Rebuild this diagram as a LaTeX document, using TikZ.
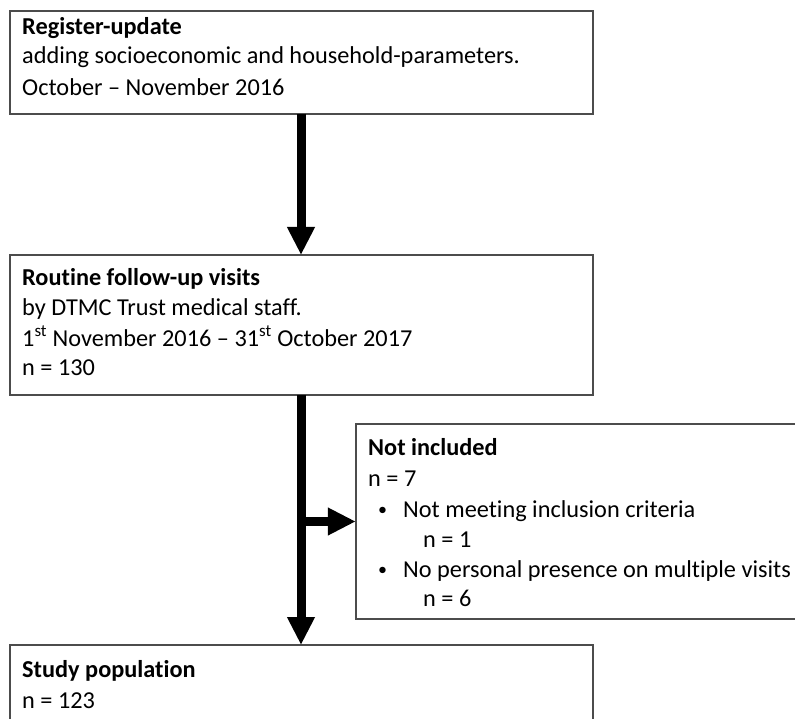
\documentclass[tikz,border=0pt]{standalone}
\usepackage{fontspec}
\setmainfont[Ligatures={NoCommon,TeX}]{Carlito}
\usetikzlibrary{arrows.meta}
\tikzset{
  box/.style={draw=black!70, line width=1.3pt, fill=white},
  txt/.style={anchor=base west, inner sep=0pt, font=\fontsize{24.3}{29}\selectfont},
  blt/.style={anchor=base west, inner sep=0pt, font=\fontsize{18}{29}\selectfont},
  ttl/.style={anchor=base west, inner sep=0pt, font=\fontsize{24.3}{29}\selectfont\bfseries},
  flow/.style={line width=9pt, -{Triangle[length=28pt,width=26pt]}},
}
\begin{document}
\begin{tikzpicture}[x=1pt,y=-1pt]
\useasboundingbox (0,0) rectangle (795,719);
\clip (0,0) rectangle (795,719);
\fill[white] (0,0) rectangle (795,719);
% boxes
\draw[box] (10,11) rectangle (593,114);
\node[inner sep=0pt, minimum width=583pt, minimum height=103pt] (b1) at (301.5,62.5) {};
\draw[box] (10,255) rectangle (593,395);
\node[inner sep=0pt, minimum width=583pt, minimum height=140pt] (b2) at (301.5,325) {};
\draw[box] (356,424) rectangle (820,619);
\node[inner sep=0pt, minimum width=464pt, minimum height=195pt] (b3) at (588,521.5) {};
\draw[box] (10,645) rectangle (593,760);
\node[inner sep=0pt, minimum width=583pt, minimum height=115pt] (b4) at (301.5,702.5) {};
% texts box1
\node[ttl] (t11) at (22,35) {Register-update};
\node[txt] (t12) at (22,64) {adding socioeconomic and household-parameters.};
\node[txt] (t13) at (22,96) {October – November 2016};
% texts box2
\node[ttl] (t21) at (22,286) {Routine follow-up visits};
\node[txt] (t22) at (22,316) {by DTMC Trust medical staff.};
\node[txt] (t23) at (22,346) {1\textsuperscript{st} November 2016 – 31\textsuperscript{st} October 2017};
\node[txt] (t24) at (22,375) {n = 130};
% texts box3
\node[ttl] (t31) at (368,455) {Not included};
\node[txt] (t32) at (368,486) {n = 7};
\node[blt] (t33a) at (378,515) {•};
\node[txt] (t33) at (403,517) {Not meeting inclusion criteria};
\node[txt] (t34) at (423,547) {n = 1};
\node[blt] (t35a) at (378,575) {•};
\node[txt] (t35) at (403,577) {No personal presence on multiple visits};
\node[txt] (t36) at (423,606) {n = 6};
% texts box4
\node[ttl] (t41) at (22,677) {Study population};
\node[txt] (t42) at (22,708) {n = 123};
% arrows
\coordinate (s1) at (301,114);
\coordinate (e1) at (301,255);
\draw[flow] (s1) -- (e1);
\coordinate (s2) at (301,395);
\coordinate (e2) at (301,645);
\draw[flow] (s2) -- (e2);
\coordinate (br) at (297,521.5);
\draw[flow] (br) -- (b3.west);
\end{tikzpicture}
\end{document}
